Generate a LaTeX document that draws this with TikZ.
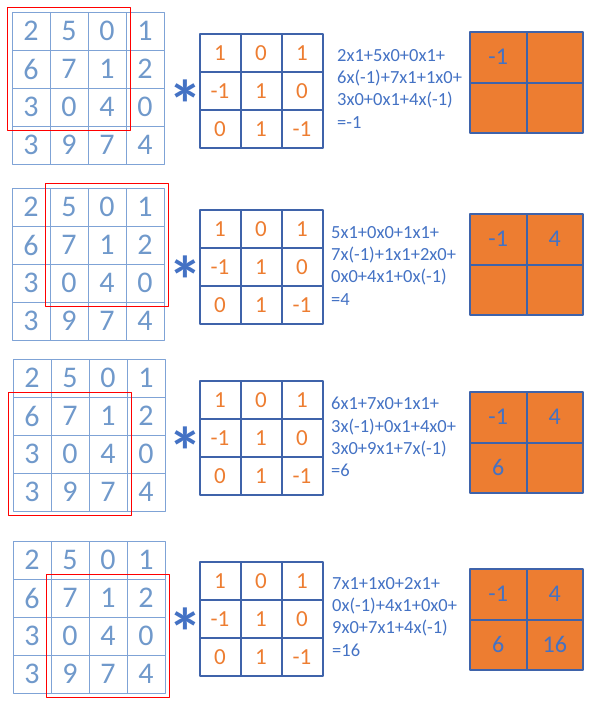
\documentclass[tikz,border=0pt]{standalone}
\usepackage{fontspec}
\setmainfont{Carlito}
\definecolor{gridblue}{HTML}{7FA3D6}
\definecolor{numblue}{HTML}{7099CB}
\definecolor{kblue}{HTML}{3F63AA}
\definecolor{myorange}{HTML}{ED7D31}
\definecolor{txtblue}{HTML}{4472C4}
\begin{document}
\begin{tikzpicture}[x=1pt, y=-1pt, line join=round,
  incell/.style={draw=gridblue, line width=1pt, minimum width=38pt, minimum height=38pt, inner sep=0pt, text=numblue, font=\fontsize{30}{30}\selectfont},
  kcell/.style={draw=kblue, line width=2pt, minimum width=41pt, minimum height=38pt, inner sep=0pt, text=myorange, font=\fontsize{23}{23}\selectfont},
  ocell/.style={draw=kblue, fill=myorange, line width=2pt, minimum width=56.5pt, minimum height=50.5pt, inner sep=0pt, text=txtblue, font=\fontsize{24}{24}\selectfont},
  formula/.style={anchor=north west, inner sep=0pt, align=left, text=txtblue, font=\fontsize{18.5}{22.3}\selectfont},
  window/.style={draw=red, line width=1.5pt},
  convstar/.style={text=txtblue, inner sep=0pt, font=\bfseries\fontsize{68}{68}\selectfont}]
\useasboundingbox (0,0) rectangle (599,702);
\foreach \pn/\gx/\gy/\wc/\wr/\ky/\oy in {1/12/12/0/0/34/32,2/12/188/1/0/210/214,3/13/359/0/1/381/392,4/13/541/1/1/562/569}{
  \foreach \row [count=\r from 0] in {{2,5,0,1},{6,7,1,2},{3,0,4,0},{3,9,7,4}}
    \foreach \v [count=\c from 0] in \row
      \node[incell] (a\pn\r\c) at (\gx+19+38*\c, \gy+19+38*\r) {\v};
  \pgfmathtruncatemacro\er{\wr+2}
  \pgfmathtruncatemacro\ec{\wc+2}
  \draw[window] ([shift={(-4,-4)}]a\pn\wr\wc.north west) rectangle ([shift={(4,4)}]a\pn\er\ec.south east);
  \foreach \row [count=\r from 0] in {{1,0,1},{-1,1,0},{0,1,-1}}
    \foreach \v [count=\c from 0] in \row
      \node[kcell] (k\pn\r\c) at (220+41*\c, \ky+19+38*\r) {\v};
  \node[convstar] (s\pn) at (185, \ky+70) {*};
  \foreach \v [count=\i from 0] in {-1,4,6,16}{
    \pgfmathtruncatemacro\r{\i/2}
    \pgfmathtruncatemacro\c{mod(\i,2)}
    \pgfmathtruncatemacro\shown{\i<\pn}
    \node[ocell] (o\pn\i) at (498.25+56.5*\c, \oy+25.25+50.5*\r) {\ifnum\shown=1 \v\fi};
  }
}
\node[formula] (f1) at (337,49) {2x1+5x0+0x1+\\6x(-1)+7x1+1x0+\\3x0+0x1+4x(-1)\\=-1};
\node[formula] (f2) at (331,226) {5x1+0x0+1x1+\\7x(-1)+1x1+2x0+\\0x0+4x1+0x(-1)\\=4};
\node[formula] (f3) at (331,397) {6x1+7x0+1x1+\\3x(-1)+0x1+4x0+\\3x0+9x1+7x(-1)\\=6};
\node[formula] (f4) at (332,577) {7x1+1x0+2x1+\\0x(-1)+4x1+0x0+\\9x0+7x1+4x(-1)\\=16};
\end{tikzpicture}
\end{document}
